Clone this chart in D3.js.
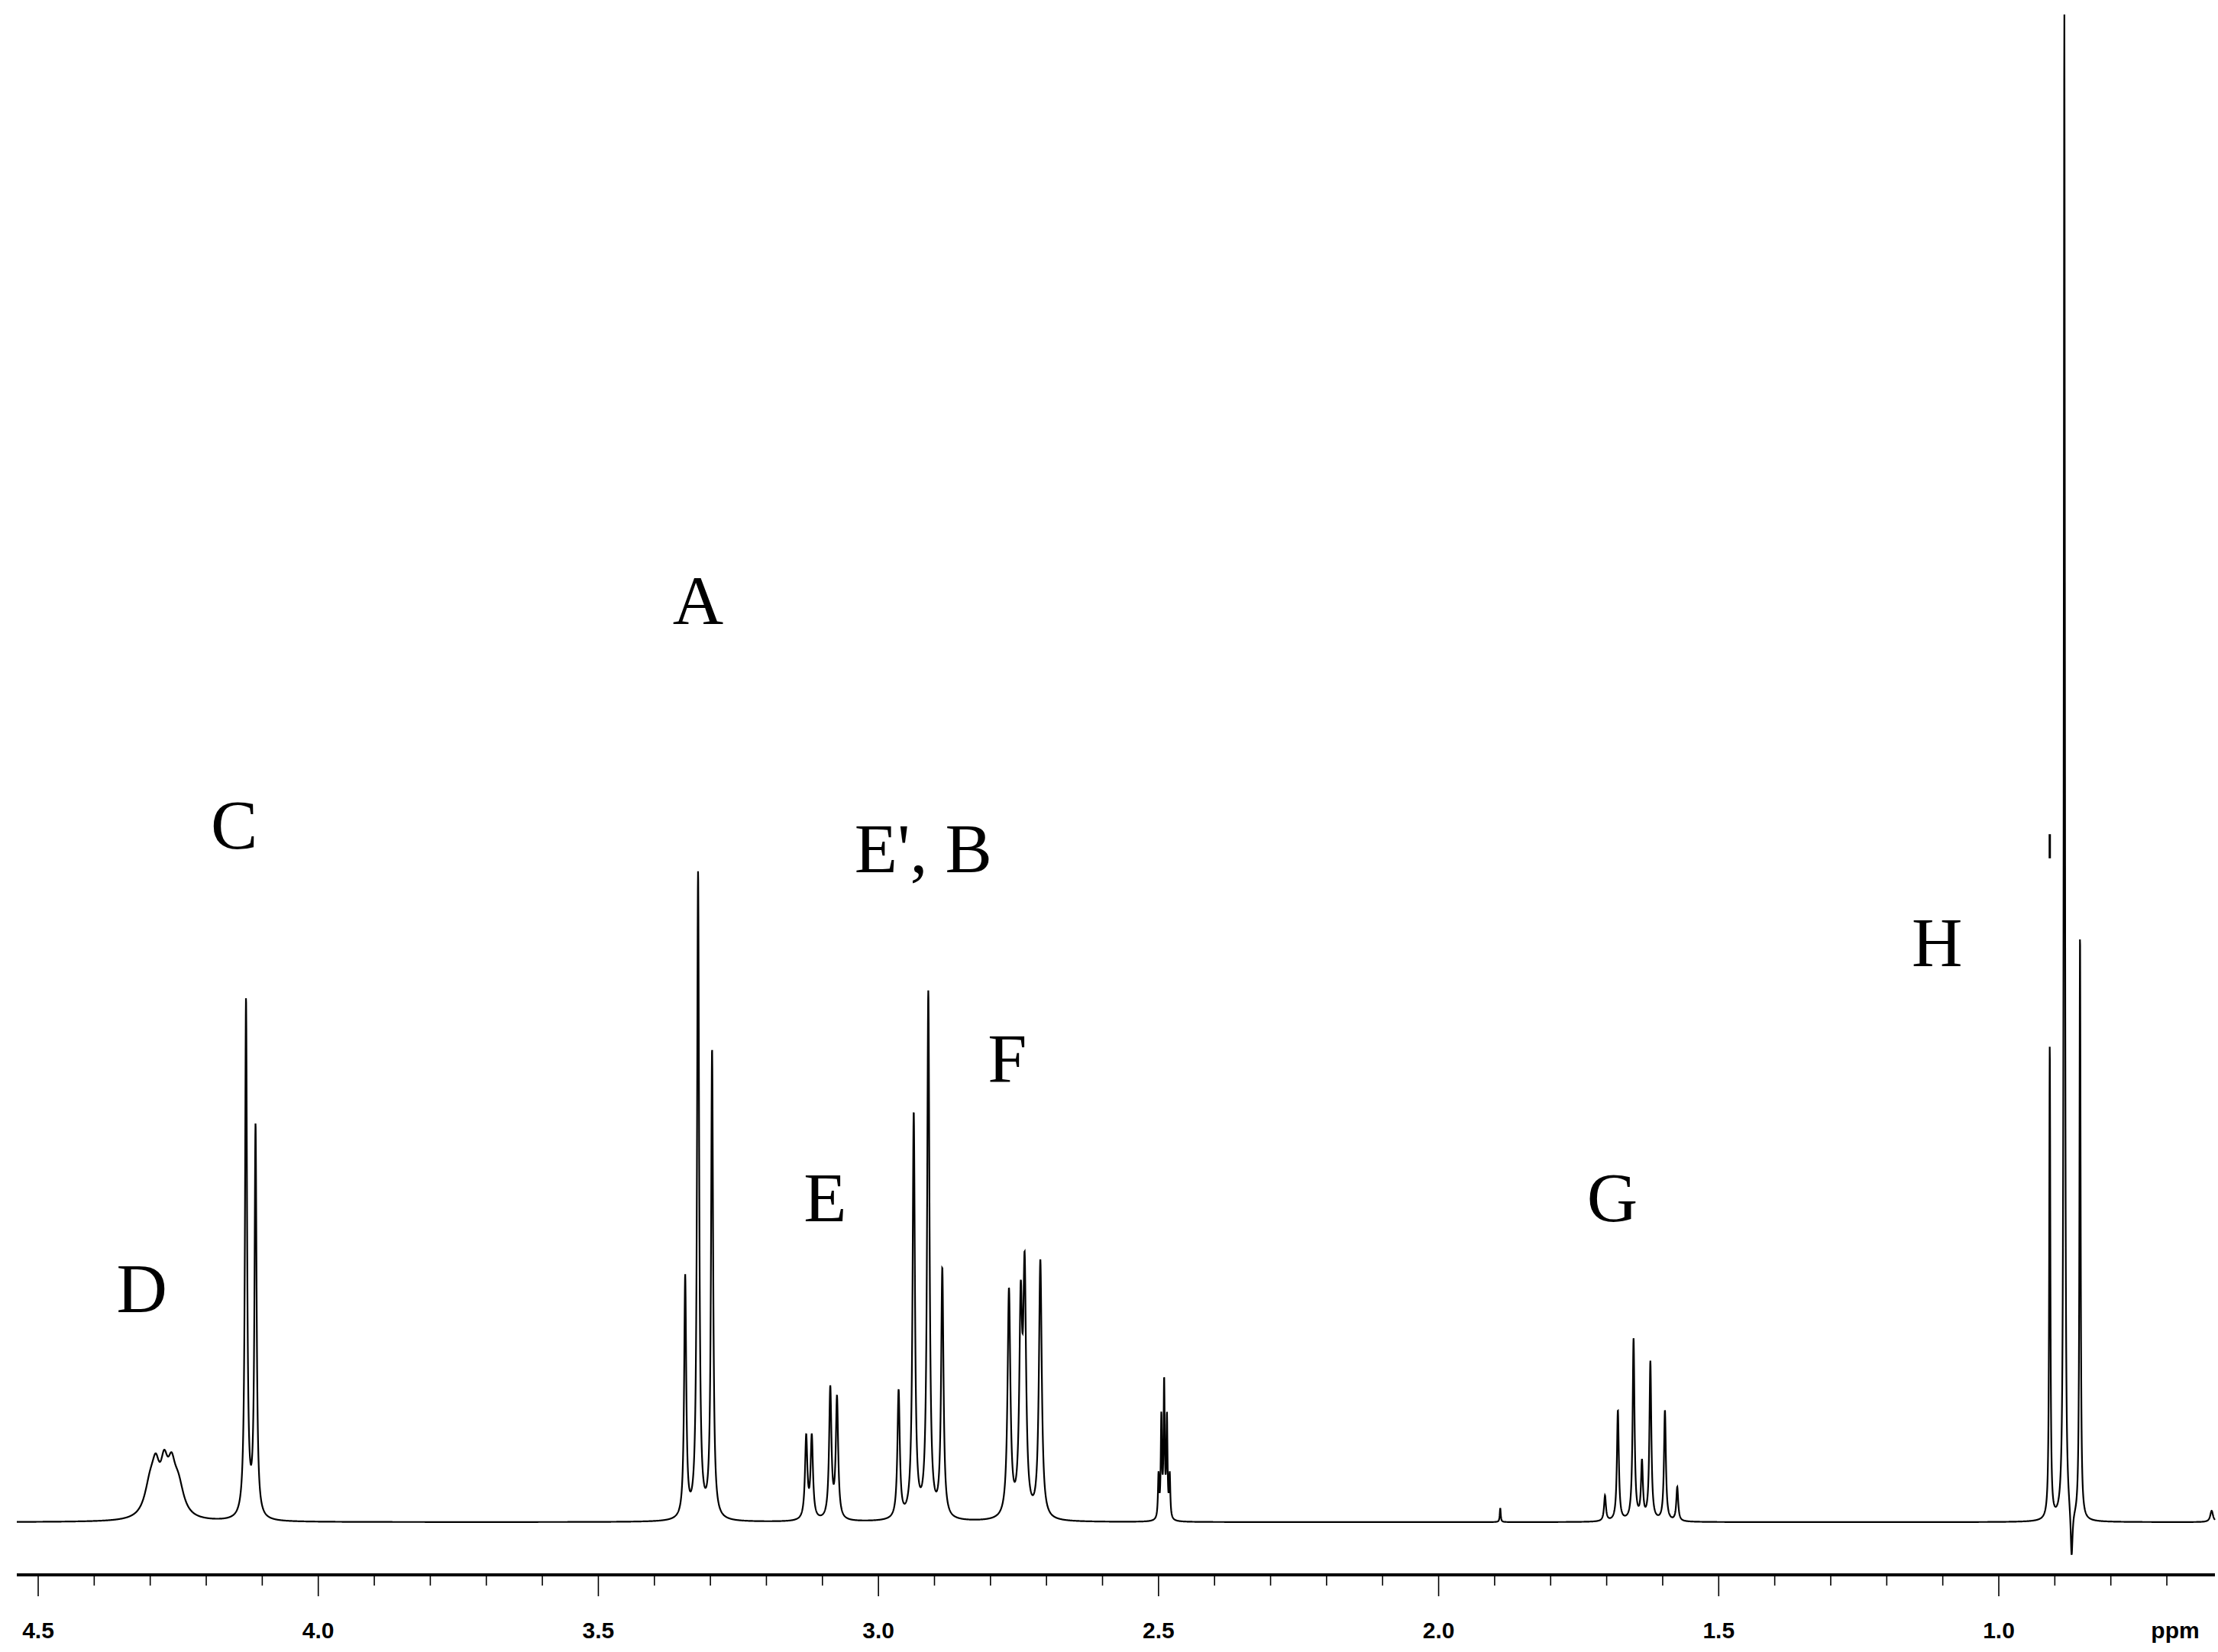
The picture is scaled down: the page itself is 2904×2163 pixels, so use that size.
<!DOCTYPE html>
<html><head><meta charset="utf-8">
<script src="https://cdn.jsdelivr.net/npm/d3@7"></script>
<style>body{margin:0;background:#fff}</style></head>
<body><svg id="c" width="2904" height="2163"></svg>
<script>
// peak positions (ppm), heights (relative), half-widths (ppm)
const peakPpm = [4.300,4.290,4.275,4.262,4.250, 4.129,4.112, 3.345,3.322,3.297, 3.129,3.119,3.086,3.074,
  2.964,2.937,2.911,2.886, 2.767,2.746,2.739,2.711, 2.500,2.495,2.490,2.485,2.480, 1.890,
  1.703,1.680,1.652,1.637,1.622,1.596,1.574, 0.909,0.883,0.870,0.855, 0.62];
const peakHeight = [22,25,30,26,22, 365,275, 170,455,330, 58,58,92,85,
  90,285,370,175, 160,140,165,182, 30,70,95,70,30, 10,
  18,78,128,40,112,78,24, 335,1065,-35,415, 8];
const peakWidth = [0.012,0.008,0.008,0.008,0.012, 0.0022,0.0022, 0.0022,0.0022,0.0022, 0.0025,0.0025,0.0025,0.0025,
  0.0025,0.0025,0.0025,0.0025, 0.003,0.003,0.003,0.003, 0.0012,0.0012,0.0012,0.0012,0.0012, 0.001,
  0.002,0.002,0.002,0.002,0.002,0.002,0.002, 0.0012,0.0012,0.002,0.0012, 0.003];
const labels = ["A","C","E', B","F","E","D","G","H"];
const labelPpm = [3.322,4.150,2.92,2.77,3.095,4.315,1.69,1.11];
const labelHeight = [633,475,458,310,212,148,212,392];
const tickValues = [4.5,4.0,3.5,3.0,2.5,2.0,1.5,1.0];

const svg = d3.select("#c");
const x = d3.scaleLinear().domain([4.5,1.0]).range([50,2617]);
const y = d3.scaleLinear().domain([0,1065]).range([1993,15]);

const ppmStart = x.invert(22), ppmEnd = x.invert(2900);
const N = 12000;
const pts = d3.range(N+1).map(i=>{
  const p = ppmStart + (ppmEnd-ppmStart)*i/N;
  let v = 0;
  peakPpm.forEach((c,k)=>{const w=peakWidth[k]; const d=(p-c)/w; v += peakHeight[k]/(1+d*d);});
  return [p, Math.min(v,1065)];
});
svg.append("path").attr("d", d3.line().x(d=>x(d[0])).y(d=>y(d[1]))(pts))
  .attr("fill","none").attr("stroke","#000").attr("stroke-width",2.2);
// small artifact mark near H
svg.append("line").attr("x1",x(0.909)).attr("x2",x(0.909)).attr("y1",y(485)).attr("y2",y(468)).attr("stroke","#000").attr("stroke-width",3);

// axis
const axisY = 2062;
svg.append("line").attr("x1",22).attr("x2",2900).attr("y1",axisY).attr("y2",axisY).attr("stroke","#000").attr("stroke-width",4);
const minor = d3.range(46).map(i=>+(4.5 - i*0.1).toFixed(2)).filter(v=>v>ppmEnd);
svg.selectAll(".t").data(minor).enter().append("line")
  .attr("x1",d=>x(d)).attr("x2",d=>x(d)).attr("y1",axisY)
  .attr("y2",d=>tickValues.some(t=>Math.abs(t-d)<1e-6)?axisY+28:axisY+14)
  .attr("stroke","#000").attr("stroke-width",1.6);
svg.selectAll(".tl").data(tickValues).enter().append("text")
  .attr("x",d=>x(d)).attr("y",2145).attr("text-anchor","middle")
  .attr("font-family","Liberation Sans, Arial").attr("font-weight","bold").attr("font-size",30)
  .text(d=>d.toFixed(1));
svg.append("text").attr("x",2848).attr("y",2145).attr("text-anchor","middle")
  .attr("font-family","Liberation Sans, Arial").attr("font-weight","bold").attr("font-size",30).text("ppm");

svg.selectAll(".lab").data(labels).enter().append("text")
  .attr("x",(d,i)=>x(labelPpm[i])).attr("y",(d,i)=>y(labelHeight[i]))
  .attr("text-anchor","middle").attr("font-family","Liberation Serif, Times New Roman")
  .attr("font-size",92).text(d=>d);
</script></body></html>
